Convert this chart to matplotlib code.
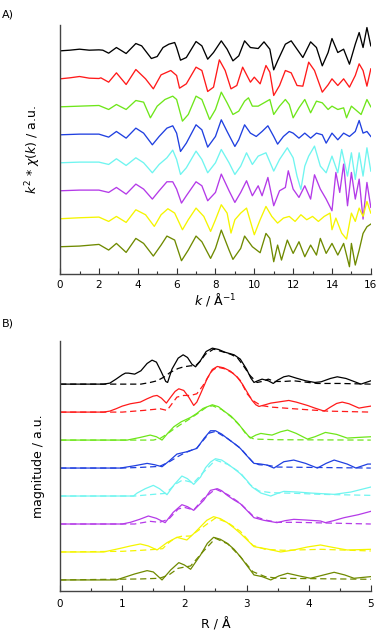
import matplotlib
matplotlib.use("Agg")
import matplotlib.pyplot as plt
from matplotlib.ticker import MultipleLocator

# colours of the 8 samples, top to bottom
colors = ['#000000', '#ff1a1a', '#6ee61a', '#2040e0', '#6ff5f0', '#b43ae8', '#f5f500', '#6f8a00']

# ---- A) k^2 chi(k), values in a.u. (trace spacing 84) ----
k_black = [0, 0.5, 1.0, 1.5, 2.0, 2.2, 2.5, 2.9, 3.4, 3.9, 4.2, 4.7, 5.0, 5.3, 5.6, 5.9, 6.0, 6.2, 6.5, 7.0,
           7.3, 7.6, 7.9, 8.3, 8.6, 8.9, 9.2, 9.5, 9.8, 10.2, 10.5, 10.8, 11.0, 11.2, 11.6, 11.9, 12.2, 12.5,
           12.9, 13.2, 13.5, 13.8, 14.0, 14.3, 14.6, 14.9, 15.2, 15.4, 15.6, 15.8, 16.0]
chi_black = [0, 2, 5, 2, 3, 2, -7, 10, -8, 22, 15, -23, -17, 10, 20, 25, 10, -28, -20, 28,
             15, -25, -5, 30, 5, -30, -15, 30, 10, 7, 27, 5, -57, -30, 20, 30, 5, -20,
             27, 10, -45, -5, 37, -5, 5, -40, 20, 55, 10, 70, 15]

k_red = [0, 0.5, 1.0, 1.5, 2.0, 2.1, 2.5, 2.9, 3.4, 3.9, 4.4, 4.8, 5.2, 5.7, 6.0, 6.15, 6.5, 7.0, 7.3, 7.6,
         7.9, 8.2, 8.5, 8.8, 9.1, 9.4, 9.8, 10.0, 10.3, 10.6, 10.8, 11.0, 11.3, 11.6, 11.9, 12.2, 12.5, 12.8,
         13.1, 13.5, 13.8, 14.0, 14.3, 14.6, 14.9, 15.2, 15.4, 15.6, 15.8, 16.0]
chi_red = [0, 3, 7, 2, 1, 3, -10, 18, -17, 28, 0, -30, 12, 25, 10, -28, -15, 35, 25, -38,
           -25, 57, 25, -30, -20, 35, -10, 5, -15, 40, 20, -50, -20, 25, 18, -20, -22, 50,
           25, -40, -18, 0, -20, 0, -25, 10, 45, 25, -22, 30]

k_green = [0, 1.0, 2.0, 2.5, 2.9, 3.4, 3.9, 4.3, 4.65, 5.0, 5.4, 5.8, 6.0, 6.3, 6.6, 7.0, 7.3, 7.7, 8.0, 8.3,
           8.6, 8.9, 9.2, 9.5, 9.7, 9.9, 10.2, 10.5, 10.8, 11.0, 11.3, 11.6, 11.8, 12.0, 12.3, 12.6, 12.9,
           13.2, 13.5, 13.8, 14.0, 14.3, 14.6, 14.75, 15.0, 15.2, 15.5, 15.8, 16.0]
chi_green = [0, 2, 4, -8, 7, -8, 19, 14, -33, 2, 22, 32, 22, -43, -23, 32, 22, -38, -8, 44,
             12, -23, -13, 17, 27, 2, 2, 12, 22, -23, 2, 22, 7, -33, -3, 22, -18,
             17, 12, -8, 2, -8, -3, -33, 2, -8, -23, 22, 0]

k_blue = [0, 1.0, 2.0, 2.5, 2.9, 3.4, 3.9, 4.3, 4.75, 5.1, 5.5, 5.8, 6.0, 6.2, 6.5, 7.0, 7.3, 7.6, 8.0, 8.3,
          8.6, 9.0, 9.2, 9.5, 9.8, 10.1, 10.4, 10.7, 11.0, 11.2, 11.5, 11.8, 12.0, 12.3, 12.6, 12.9, 13.2,
          13.5, 13.7, 14.0, 14.3, 14.6, 14.9, 15.2, 15.4, 15.6, 15.8, 16.0]
chi_blue = [0, 2, 2, -7, 10, -10, 20, 5, -30, -5, 20, 27, 5, -50, -25, 30, 15, -37, -5, 45,
            10, -35, -15, 30, 5, -5, 10, 27, -5, -28, -5, 10, 5, -10, 5, -10, 5,
            0, -25, 5, -15, 5, -5, 10, 43, 5, 10, -5]

k_cyan = [0, 1.0, 2.0, 2.5, 2.9, 3.4, 3.9, 4.3, 4.75, 5.1, 5.5, 5.8, 6.0, 6.2, 6.5, 7.0, 7.3, 7.6, 8.0, 8.3,
          8.7, 9.0, 9.3, 9.6, 9.9, 10.2, 10.6, 11.0, 11.3, 11.7, 12.0, 12.2, 12.4, 12.6, 12.8, 13.1, 13.4,
          13.7, 14.0, 14.3, 14.5, 14.8, 15.0, 15.2, 15.4, 15.6, 15.8, 16.0]
chi_cyan = [0, 2, 2, -5, 12, -8, 15, 0, -30, -5, 15, 38, 10, -35, -15, 35, 10, -30, 0, 40,
            0, -35, -10, 30, -5, 20, 30, -25, 10, 45, 15, -40, -80, -10, 20, 50, -10,
            -30, 20, -30, 40, -40, 30, -50, 30, -40, 45, -25]

k_purple = [0, 1.0, 2.0, 2.5, 2.9, 3.4, 3.9, 4.3, 4.75, 5.1, 5.5, 5.8, 6.0, 6.25, 6.5, 7.0, 7.3, 7.6, 8.0, 8.3,
            8.7, 9.0, 9.3, 9.6, 9.9, 10.2, 10.4, 10.7, 11.0, 11.3, 11.6, 11.75, 12.0, 12.3, 12.6, 12.9, 13.1,
            13.4, 13.7, 14.0, 14.2, 14.4, 14.6, 14.8, 15.0, 15.2, 15.4, 15.6, 15.8, 16.0]
chi_purple = [0, 2, 2, -5, 10, -10, 20, 5, -25, 0, 27, 27, 5, -37, -15, 27, 15, -30, -5, 50,
              0, -35, -5, 30, -15, 15, -15, 40, -45, 0, 10, 60, 5, -20, 15, -25, 48,
              5, -25, -60, 55, -5, 80, -45, 55, -25, 35, -85, 25, -50]

k_yellow = [0, 1.0, 2.0, 2.5, 2.9, 3.4, 3.9, 4.4, 4.85, 5.2, 5.55, 5.9, 6.3, 6.6, 7.0, 7.4, 7.75, 8.0, 8.3, 8.6,
            8.8, 9.0, 9.3, 9.6, 10.0, 10.3, 10.6, 10.9, 11.2, 11.5, 11.8, 12.1, 12.4, 12.7, 13.0, 13.3, 13.6,
            13.9, 14.0, 14.2, 14.5, 14.75, 15.0, 15.2, 15.4, 15.6, 15.8, 16.0]
chi_yellow = [0, 3, 5, -8, 7, -11, 27, 12, -23, 12, 30, 17, -33, -3, 32, 7, -38, -3, 42, 17,
              -43, -3, 17, 32, -48, -3, 37, 7, -13, 2, 7, -8, 12, -3, 7, -8, 7,
              17, -33, 2, -43, -61, 17, -8, 32, 7, 52, 17]

k_olive = [0, 1.0, 2.0, 2.5, 2.9, 3.4, 3.9, 4.3, 4.8, 5.2, 5.5, 5.9, 6.25, 6.6, 7.0, 7.3, 7.75, 8.0, 8.3, 8.7,
           8.9, 9.3, 9.5, 9.9, 10.3, 10.6, 10.8, 11.0, 11.2, 11.4, 11.7, 12.0, 12.3, 12.6, 12.9, 13.2, 13.4,
           13.7, 14.0, 14.3, 14.6, 14.9, 15.0, 15.2, 15.4, 15.6, 15.8, 16.0]
chi_olive = [0, 2, 7, -10, 10, -17, 25, 10, -28, 5, 32, 20, -42, -10, 32, 15, -35, -5, 50, -10,
             -38, -5, 32, 0, -18, 40, 25, -45, 5, -40, 20, -20, 15, -30, 5, -25, 25,
             -20, 10, -25, 10, -60, 10, -55, -10, 40, 60, 68]

# ---- B) FT magnitude, a.u. (trace spacing 84), solid = data, dashed = fit ----
R_black = [0, 0.7, 0.8, 0.9, 1.0, 1.05, 1.1, 1.2, 1.3, 1.4, 1.48, 1.55, 1.62, 1.7, 1.73, 1.8, 1.9, 1.98, 2.05,
           2.12, 2.18, 2.25, 2.35, 2.45, 2.55, 2.65, 2.8, 2.9, 3.0, 3.07, 3.12, 3.18, 3.25, 3.35, 3.43, 3.5,
           3.6, 3.68, 3.8, 3.95, 4.1, 4.2, 4.35, 4.46, 4.6, 4.7, 4.84, 4.92, 5.0]
mag_black = [0, 0, 3, 15, 28, 33, 33, 30, 40, 62, 72, 66, 40, 8, 5, 45, 78, 88, 80,
             60, 52, 68, 98, 108, 104, 96, 88, 75, 45, 18, 5, 10, 15, 10, 2, 12,
             22, 25, 18, 10, 5, 7, 17, 22, 17, 10, 0, 5, 10]
R_black_fit = [0, 1.3, 1.45, 1.56, 1.68, 1.77, 1.9, 1.99, 2.1, 2.18, 2.26, 2.34, 2.47, 2.6, 2.74, 2.85, 2.95,
               3.06, 3.17, 3.25, 3.35, 3.45, 3.6, 3.76, 3.95, 4.14, 4.5, 5.0]
mag_black_fit = [0, 0, 5, 10, 22, 35, 47, 52, 55, 55, 70, 90, 105, 98, 90, 80, 55,
                 25, 5, 8, 15, 8, 8, 10, 6, 2, 2, 0]

R_red = [0, 0.7, 0.8, 0.9, 1.0, 1.13, 1.29, 1.4, 1.5, 1.56, 1.63, 1.71, 1.78, 1.85, 1.91, 1.99, 2.07, 2.15,
         2.2, 2.26, 2.37, 2.45, 2.53, 2.63, 2.74, 2.85, 2.93, 3.01, 3.09, 3.15, 3.2, 3.3, 3.39, 3.5, 3.68,
         3.8, 3.98, 4.1, 4.25, 4.35, 4.45, 4.54, 4.65, 4.81, 4.9, 5.0]
mag_red = [0, 0, 3, 10, 18, 25, 30, 40, 48, 50, 42, 27, 45, 62, 70, 65, 45, 20,
           30, 55, 102, 128, 137, 133, 123, 105, 85, 60, 35, 22, 17, 22, 27, 30, 35,
           30, 20, 12, 3, 15, 26, 30, 25, 12, 15, 18]
R_red_fit = [0, 1.0, 1.34, 1.61, 1.72, 1.8, 1.88, 1.99, 2.1, 2.2, 2.3, 2.37, 2.45, 2.53, 2.65, 2.8, 2.9,
             3.01, 3.1, 3.23, 3.4, 3.76, 4.3, 5.0]
mag_red_fit = [0, 0, 5, 10, 5, 25, 45, 50, 50, 55, 80, 102, 125, 135, 130, 115, 95,
               55, 35, 20, 15, 10, 3, 0]

R_green = [0, 1.08, 1.29, 1.45, 1.55, 1.64, 1.73, 1.83, 1.95, 2.1, 2.2, 2.3, 2.45, 2.55, 2.63, 2.75, 2.85,
           2.95, 3.06, 3.15, 3.23, 3.33, 3.41, 3.55, 3.66, 3.8, 3.98, 4.1, 4.27, 4.45, 4.62, 4.8, 5.0]
mag_green = [0, 0, 8, 15, 10, 0, 20, 40, 55, 68, 80, 95, 106, 100, 88, 72, 53,
             30, 6, 15, 20, 17, 15, 25, 30, 20, 3, 10, 23, 17, 6, 8, 10]
R_green_fit = [0, 1.5, 1.61, 1.72, 1.83, 1.95, 2.04, 2.2, 2.35, 2.45, 2.6, 2.75, 2.9, 3.01, 3.12, 3.5, 5.0]
mag_green_fit = [0, 0, 5, 18, 33, 48, 58, 78, 98, 103, 92, 70, 42, 13, 3, 1, 0]

R_blue = [0, 0.97, 1.2, 1.4, 1.52, 1.64, 1.76, 1.88, 2.04, 2.2, 2.32, 2.42, 2.5, 2.6, 2.69, 2.8, 2.9, 3.0,
          3.12, 3.23, 3.33, 3.44, 3.6, 3.76, 3.95, 4.14, 4.28, 4.41, 4.62, 4.76, 4.95, 5.0]
mag_blue = [0, 0, 7, 14, 10, 4, 22, 42, 49, 59, 90, 112, 112, 102, 89, 74, 59, 38,
            14, 12, 9, 0, 19, 24, 14, 0, 14, 24, 12, 0, 12, 12]
R_blue_fit = [0, 1.0, 1.3, 1.6, 1.75, 1.9, 2.0, 2.2, 2.4, 2.5, 2.7, 2.9, 3.1, 3.2, 3.35, 3.5, 5.0]
mag_blue_fit = [0, 0, 2, 5, 18, 35, 45, 60, 105, 110, 88, 60, 18, 10, 8, 3, 0]

R_cyan = [0, 1.18, 1.24, 1.37, 1.5, 1.6, 1.72, 1.84, 1.96, 2.05, 2.15, 2.26, 2.34, 2.42, 2.5, 2.6, 2.69, 2.8,
          2.9, 3.0, 3.09, 3.23, 3.39, 3.5, 3.6, 3.82, 4.03, 4.22, 4.41, 4.68, 5.0]
mag_cyan = [0, 0, 9, 22, 32, 22, 4, 35, 60, 52, 35, 57, 85, 102, 112, 108, 97, 82,
            67, 48, 27, 9, 0, 8, 14, 12, 9, 7, 5, 12, 27]
R_cyan_fit = [0, 1.2, 1.5, 1.7, 1.85, 1.97, 2.15, 2.3, 2.5, 2.7, 2.9, 3.05, 3.2, 3.4, 3.8, 4.2, 5.0]
mag_cyan_fit = [0, 0, 5, 8, 35, 48, 40, 70, 108, 95, 70, 35, 15, 10, 8, 5, 2]

R_purple = [0, 1.0, 1.13, 1.28, 1.42, 1.55, 1.69, 1.82, 1.96, 2.05, 2.15, 2.31, 2.42, 2.53, 2.6, 2.69, 2.8,
            2.9, 3.0, 3.12, 3.28, 3.49, 3.62, 3.76, 3.95, 4.19, 4.27, 4.4, 4.57, 4.8, 5.0]
mag_purple = [0, 0, 5, 14, 24, 17, 4, 35, 58, 52, 41, 71, 101, 106, 100, 86, 72,
              61, 42, 19, 11, 4, 10, 14, 12, 9, 4, 10, 19, 28, 38]
R_purple_fit = [0, 1.2, 1.45, 1.6, 1.75, 1.9, 2.0, 2.15, 2.3, 2.5, 2.7, 2.9, 3.1, 3.3, 3.5, 3.8, 5.0]
mag_purple_fit = [0, 0, 8, 5, 15, 45, 50, 42, 75, 105, 88, 62, 25, 12, 5, 5, 0]

R_yellow = [0, 0.7, 0.97, 1.13, 1.29, 1.42, 1.56, 1.72, 1.88, 2.04, 2.15, 2.26, 2.36, 2.47, 2.58, 2.69, 2.8,
            2.9, 3.0, 3.12, 3.33, 3.55, 3.76, 3.98, 4.19, 4.41, 4.62, 5.0]
mag_yellow = [0, 0, 11, 18, 24, 18, 6, 28, 44, 36, 55, 76, 95, 106, 100, 88, 72,
              56, 38, 16, 9, 0, 6, 15, 21, 13, 6, 8]
R_yellow_fit = [0, 1.0, 1.3, 1.55, 1.65, 1.75, 1.85, 1.95, 2.1, 2.3, 2.5, 2.7, 2.9, 3.1, 3.3, 3.6, 4.2, 5.0]
mag_yellow_fit = [0, 2, 5, 8, 10, 28, 42, 47, 48, 75, 102, 88, 62, 20, 8, 5, 8, 3]

R_olive = [0, 0.9, 0.97, 1.2, 1.4, 1.5, 1.64, 1.78, 1.91, 2.0, 2.1, 2.26, 2.37, 2.47, 2.58, 2.69, 2.8, 2.9,
           3.0, 3.12, 3.25, 3.39, 3.52, 3.66, 3.85, 4.03, 4.22, 4.41, 4.58, 4.73, 5.0]
mag_olive = [0, 0, 4, 18, 28, 24, 0, 30, 52, 45, 32, 75, 110, 128, 122, 110, 92, 70,
             45, 15, 10, 0, 12, 20, 12, 5, 14, 23, 15, 5, 10]
R_olive_fit = [0, 1.3, 1.6, 1.75, 1.9, 2.1, 2.3, 2.5, 2.7, 2.9, 3.1, 3.3, 3.5, 5.0]
mag_olive_fit = [0, 3, 5, 15, 35, 42, 85, 125, 108, 70, 25, 10, 5, 2]

k_sets = [(k_black, chi_black), (k_red, chi_red), (k_green, chi_green), (k_blue, chi_blue),
          (k_cyan, chi_cyan), (k_purple, chi_purple), (k_yellow, chi_yellow), (k_olive, chi_olive)]
r_sets = [(R_black, mag_black, R_black_fit, mag_black_fit), (R_red, mag_red, R_red_fit, mag_red_fit),
          (R_green, mag_green, R_green_fit, mag_green_fit), (R_blue, mag_blue, R_blue_fit, mag_blue_fit),
          (R_cyan, mag_cyan, R_cyan_fit, mag_cyan_fit), (R_purple, mag_purple, R_purple_fit, mag_purple_fit),
          (R_yellow, mag_yellow, R_yellow_fit, mag_yellow_fit), (R_olive, mag_olive, R_olive_fit, mag_olive_fit)]
spacing = 84

fig = plt.figure(figsize=(3.78, 6.30), dpi=100)
axA = fig.add_axes([0.159, 0.565, 0.822, 0.395])
axB = fig.add_axes([0.159, 0.062, 0.822, 0.397])

for i, (kk, cc) in enumerate(k_sets):
    off = (7 - i) * spacing
    axA.plot(kk, [v + off for v in cc], color=colors[i], lw=0.95)

for i, (rr, mm, rf, mf) in enumerate(r_sets):
    off = (7 - i) * spacing
    axB.plot(rr, [v + off for v in mm], color=colors[i], lw=0.9)
    axB.plot(rf, [v + off for v in mf], color=colors[i], lw=0.9, ls=(0, (5, 3)))

axA.set_xlim(0, 16)
axA.set_ylim(-82, 665)
axA.xaxis.set_major_locator(MultipleLocator(2))
axA.xaxis.set_minor_locator(MultipleLocator(1))
axA.set_xlabel(r'$k$ / Å$^{-1}$', fontsize=9, labelpad=1)
axA.set_ylabel(r'$k^2$ * $\chi$($k$) / a.u.', fontsize=9, labelpad=12)

axB.set_xlim(0, 5)
axB.set_ylim(-33, 718)
axB.xaxis.set_major_locator(MultipleLocator(1))
axB.xaxis.set_minor_locator(MultipleLocator(0.5))
axB.set_xlabel('R / Å', fontsize=9, labelpad=6)
axB.set_ylabel('magnitude / a.u.', fontsize=9, labelpad=11)

for ax in (axA, axB):
    for s in ('top', 'right'):
        ax.spines[s].set_visible(False)
    for s in ('left', 'bottom'):
        ax.spines[s].set_color('#444444')
        ax.spines[s].set_linewidth(1.0)
    ax.set_yticks([])
    ax.tick_params(axis='x', which='major', direction='in', length=4, width=0.8, labelsize=7.5, colors='#333333')
    ax.tick_params(axis='x', which='minor', direction='in', length=2, width=0.8, colors='#333333')
    ax.tick_params(axis='x', labelcolor='black')
axA.tick_params(axis='x', which='major', pad=4)
axB.tick_params(axis='x', which='major', pad=6)

fig.text(0.005, 0.985, 'A)', fontsize=8, va='top')
fig.text(0.005, 0.495, 'B)', fontsize=8, va='top')

fig.savefig('out.png', dpi=100)
